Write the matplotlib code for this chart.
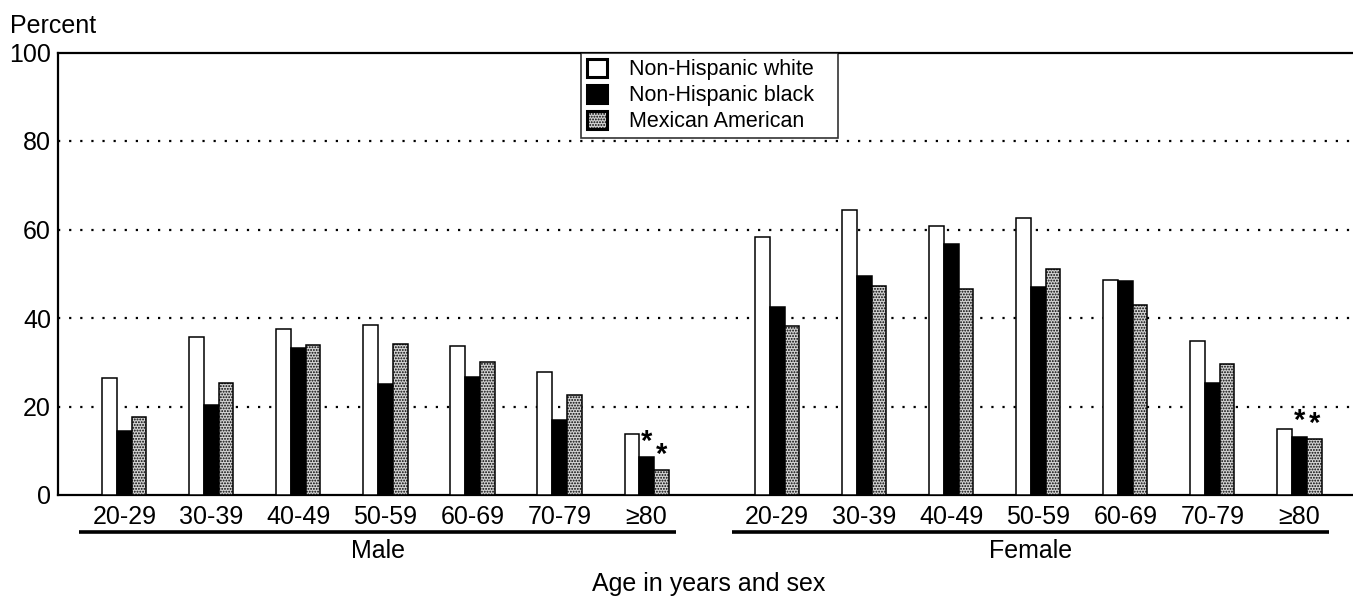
import matplotlib
matplotlib.use("Agg")
import matplotlib.pyplot as plt
from matplotlib.patches import Patch
import numpy as np

# ---- data ----
categories = ['20-29', '30-39', '40-49', '50-59', '60-69', '70-79', '≥80']
series = ['Non-Hispanic white', 'Non-Hispanic black', 'Mexican American']
male_white = [26.4, 35.6, 37.6, 38.5, 33.7, 27.8, 13.8]
male_black = [14.4, 20.3, 33.3, 25.0, 26.6, 16.9, 8.6]
male_mex = [17.6, 25.4, 33.9, 34.1, 30.0, 22.7, 5.7]
female_white = [58.4, 64.5, 60.9, 62.6, 48.6, 34.7, 15.0]
female_black = [42.5, 49.5, 56.7, 47.0, 48.3, 25.4, 13.2]
female_mex = [38.1, 47.2, 46.6, 51.0, 42.9, 29.5, 12.6]
sexes = ['Male', 'Female']
# (sex index, series index, category index) of estimates marked with *
flagged = [(0, 1, 6), (0, 2, 6), (1, 1, 6), (1, 2, 6)]
y_ticks = [0, 20, 40, 60, 80, 100]

plt.rcParams['font.family'] = ['Liberation Sans', 'DejaVu Sans']
plt.rcParams['hatch.linewidth'] = 0.9
plt.rcParams['hatch.color'] = '#111111'

FS = 18
W, H = 1353, 597
fig = plt.figure(figsize=(W / 100, H / 100), dpi=100)
ax = fig.add_axes([58 / W, 1 - 495 / H, 1 - 58 / W, (495 - 52.5) / H])

n = len(categories)
male_x = np.arange(n, dtype=float)
female_x = np.arange(n, dtype=float) + n + 0.5
bw = 0.169

styles = [
    dict(facecolor='white', edgecolor='black', hatch=None),
    dict(facecolor='black', edgecolor='black', hatch=None),
    dict(facecolor='#d2d2d2', edgecolor='black', hatch='......'),
]
data = [[male_white, male_black, male_mex], [female_white, female_black, female_mex]]
xs = [male_x, female_x]

for s in range(2):
    for k in range(3):
        st = styles[k]
        ax.bar(xs[s] + (k - 1) * bw, data[s][k], width=bw,
               facecolor=st['facecolor'], edgecolor=st['edgecolor'],
               hatch=st['hatch'], linewidth=1.1, zorder=3)

for (s, k, i) in flagged:
    ax.text(xs[s][i] + (k - 1) * bw, data[s][k][i] + 0.3, '*',
            ha='center', va='bottom', fontsize=21, fontweight='bold', zorder=4)

ax.set_ylim(0, 100)
ax.set_xlim(-0.762, 14.115)
ax.set_yticks(y_ticks)
ax.set_yticklabels([str(v) for v in y_ticks], fontsize=FS)
for v in y_ticks[1:-1]:
    ax.axhline(v, color='black', linestyle=(0, (1, 4)), linewidth=1.6, zorder=1)

ax.set_xticks(np.concatenate([male_x, female_x]))
ax.set_xticklabels(categories + categories, fontsize=FS)
ax.tick_params(axis='both', length=0)
ax.tick_params(axis='y', pad=5)
ax.tick_params(axis='x', pad=7)

for sp in ['left', 'bottom', 'top']:
    ax.spines[sp].set_linewidth(1.6)
ax.spines['right'].set_visible(False)

# group underlines and sex labels
trans = ax.get_xaxis_transform()
for s in range(2):
    x0 = xs[s][0] - 0.52
    x1 = xs[s][-1] + 0.34
    ax.plot([x0, x1], [-0.0836, -0.0836], color='black', linewidth=2.6,
            transform=trans, clip_on=False, solid_capstyle='butt')
    ax.text((x0 + x1) / 2, -0.1266, sexes[s], transform=trans, ha='center',
            va='center', fontsize=FS)

fig.text(0.524, 1 - 583.5 / H, 'Age in years and sex', ha='center', va='center',
         fontsize=FS)
fig.text(10 / W, 1 - 33 / H, 'Percent', ha='left', va='baseline', fontsize=FS)

handles = [Patch(facecolor=st['facecolor'], edgecolor='black', hatch=st['hatch'],
                 linewidth=2.2) for st in styles]
leg = ax.legend(handles, series, loc='upper left',
                bbox_to_anchor=(0.4036, 0.8075, 0.1987, 0.1925), mode='expand',
                borderaxespad=0, frameon=True, fancybox=False, shadow=False,
                prop={'size': 15.5},
                handlelength=0.95, handleheight=0.95, handletextpad=1.0,
                labelspacing=0.2, borderpad=0.28)
leg.get_frame().set_edgecolor('black')
leg.get_frame().set_linewidth(1.2)
leg.set_zorder(5)

fig.savefig('out.png', dpi=100)
